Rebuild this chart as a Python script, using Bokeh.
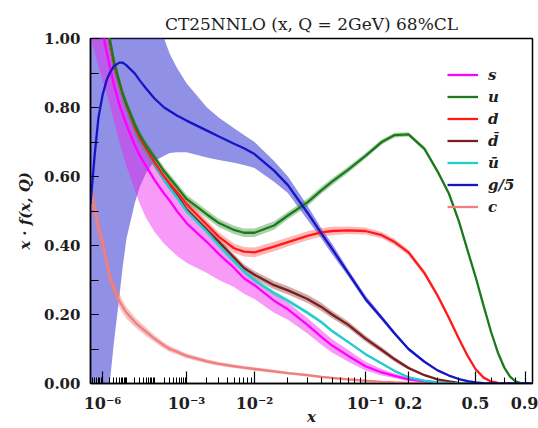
import numpy as np
from bokeh.plotting import figure
from bokeh.models import (Range1d, FixedTicker, SingleIntervalTicker, NumeralTickFormatter,
                          Legend, LegendItem)
from bokeh.embed import file_html
from bokeh.resources import INLINE

# momentum fraction grid
X = [3.5e-7, 5e-7, 7e-7, 1e-6, 1.5e-6, 2e-6, 3e-6, 5e-6,
     7e-6, 1e-5, 2e-5, 3e-5, 5e-5, 1e-4, 2e-4, 3e-4,
     5e-4, 1e-3, 2e-3, 3e-3, 5e-3, 7e-3, 0.01, 0.015,
     0.02, 0.03, 0.04, 0.05, 0.07, 0.1, 0.13, 0.16,
     0.2, 0.25, 0.3, 0.35, 0.4, 0.45, 0.5, 0.55,
     0.6, 0.65, 0.7, 0.75, 0.8, 0.85, 0.9, 0.97]

# x*f(x,Q) central values and uncertainties
U = [1.55, 1.4, 1.26, 1.15, 1.06, 1.0, 0.935, 0.875,
     0.84, 0.81, 0.75, 0.72, 0.69, 0.655, 0.615, 0.595,
     0.57, 0.535, 0.49, 0.465, 0.445, 0.437, 0.437, 0.458,
     0.487, 0.525, 0.56, 0.585, 0.62, 0.66, 0.70, 0.72,
     0.722, 0.68, 0.615, 0.55, 0.47, 0.385, 0.31, 0.225,
     0.15, 0.09, 0.047, 0.02, 0.006, 0.001, 0.0, 0.0]
U_ERR = [0.03, 0.027, 0.024, 0.021, 0.019, 0.018, 0.016, 0.015,
         0.014, 0.014, 0.013, 0.013, 0.012, 0.012, 0.012, 0.012,
         0.012, 0.012, 0.012, 0.012, 0.012, 0.012, 0.012, 0.012,
         0.011, 0.011, 0.01, 0.01, 0.009, 0.008, 0.007, 0.007,
         0.006, 0.006, 0.006, 0.006, 0.006, 0.005, 0.005, 0.004,
         0.003, 0.002, 0.002, 0.001, 0.001, 0.0, 0.0, 0.0]

UBAR = [1.5, 1.35, 1.22, 1.13, 1.04, 0.985, 0.92, 0.865,
        0.83, 0.80, 0.735, 0.705, 0.675, 0.635, 0.59, 0.567,
        0.54, 0.50, 0.44, 0.40, 0.355, 0.325, 0.30, 0.262,
        0.24, 0.205, 0.178, 0.152, 0.12, 0.085, 0.058, 0.036,
        0.018, 0.008, 0.003, 0.001, 0.0, 0.0, 0.0, 0.0,
        0.0, 0.0, 0.0, 0.0, 0.0, 0.0, 0.0, 0.0]
UBAR_ERR = [0.025, 0.022, 0.02, 0.018, 0.016, 0.015, 0.013, 0.012,
            0.011, 0.011, 0.01, 0.01, 0.009, 0.009, 0.008, 0.008,
            0.008, 0.008, 0.008, 0.008, 0.008, 0.007, 0.007, 0.007,
            0.006, 0.006, 0.005, 0.005, 0.004, 0.004, 0.003, 0.003,
            0.002, 0.001, 0.001, 0.0, 0.0, 0.0, 0.0, 0.0,
            0.0, 0.0, 0.0, 0.0, 0.0, 0.0, 0.0, 0.0]

DBAR = [1.5, 1.35, 1.22, 1.13, 1.04, 0.985, 0.92, 0.865,
        0.83, 0.80, 0.735, 0.705, 0.675, 0.635, 0.592, 0.57,
        0.545, 0.505, 0.445, 0.41, 0.365, 0.335, 0.315, 0.285,
        0.27, 0.245, 0.222, 0.2, 0.17, 0.13, 0.097, 0.07,
        0.045, 0.024, 0.012, 0.006, 0.002, 0.0005, 0.0, 0.0,
        0.0, 0.0, 0.0, 0.0, 0.0, 0.0, 0.0, 0.0]
DBAR_ERR = [0.025, 0.022, 0.02, 0.018, 0.016, 0.015, 0.013, 0.012,
            0.011, 0.011, 0.01, 0.01, 0.009, 0.009, 0.008, 0.008,
            0.008, 0.008, 0.009, 0.01, 0.01, 0.011, 0.011, 0.012,
            0.012, 0.012, 0.012, 0.011, 0.01, 0.009, 0.008, 0.007,
            0.005, 0.003, 0.002, 0.001, 0.001, 0.0, 0.0, 0.0,
            0.0, 0.0, 0.0, 0.0, 0.0, 0.0, 0.0, 0.0]

D = [1.5, 1.37, 1.24, 1.14, 1.05, 0.99, 0.925, 0.87,
     0.835, 0.805, 0.74, 0.71, 0.68, 0.64, 0.6, 0.58,
     0.555, 0.52, 0.46, 0.425, 0.392, 0.382, 0.38, 0.397,
     0.41, 0.428, 0.438, 0.442, 0.444, 0.442, 0.43, 0.41,
     0.38, 0.32, 0.255, 0.19, 0.13, 0.08, 0.042, 0.017,
     0.006, 0.002, 0.0005, 0.0, 0.0, 0.0, 0.0, 0.0]
D_ERR = [0.03, 0.027, 0.024, 0.021, 0.019, 0.018, 0.016, 0.015,
         0.014, 0.014, 0.013, 0.013, 0.012, 0.012, 0.012, 0.012,
         0.012, 0.013, 0.013, 0.013, 0.014, 0.014, 0.014, 0.014,
         0.013, 0.013, 0.012, 0.012, 0.011, 0.01, 0.009, 0.009,
         0.008, 0.008, 0.007, 0.006, 0.005, 0.004, 0.003, 0.002,
         0.001, 0.001, 0.0, 0.0, 0.0, 0.0, 0.0, 0.0]

S = [1.35, 1.22, 1.1, 1.02, 0.96, 0.92, 0.865, 0.81,
     0.78, 0.75, 0.69, 0.66, 0.63, 0.59, 0.55, 0.53,
     0.50, 0.465, 0.41, 0.375, 0.335, 0.305, 0.285, 0.24,
     0.215, 0.17, 0.135, 0.11, 0.08, 0.05, 0.032, 0.022,
     0.012, 0.006, 0.003, 0.0015, 0.0005, 0.0, 0.0, 0.0,
     0.0, 0.0, 0.0, 0.0, 0.0, 0.0, 0.0, 0.0]
S_LO = [1.0, 0.96, 0.92, 0.88, 0.84, 0.81, 0.76, 0.70,
        0.665, 0.63, 0.56, 0.52, 0.48, 0.44, 0.405, 0.39,
        0.37, 0.35, 0.32, 0.30, 0.28, 0.26, 0.245, 0.205,
        0.185, 0.145, 0.112, 0.09, 0.063, 0.038, 0.023, 0.015,
        0.007, 0.003, 0.001, 0.0, 0.0, 0.0, 0.0, 0.0,
        0.0, 0.0, 0.0, 0.0, 0.0, 0.0, 0.0, 0.0]
S_HI = [1.6, 1.45, 1.3, 1.17, 1.06, 0.99, 0.925, 0.87,
        0.835, 0.80, 0.735, 0.705, 0.675, 0.635, 0.59, 0.567,
        0.54, 0.495, 0.435, 0.395, 0.355, 0.325, 0.305, 0.26,
        0.235, 0.19, 0.155, 0.128, 0.097, 0.063, 0.042, 0.029,
        0.017, 0.009, 0.005, 0.002, 0.001, 0.0, 0.0, 0.0,
        0.0, 0.0, 0.0, 0.0, 0.0, 0.0, 0.0, 0.0]

G5 = [0.52, 0.66, 0.77, 0.835, 0.88, 0.90, 0.92, 0.93,
      0.93, 0.922, 0.898, 0.878, 0.855, 0.826, 0.80, 0.79,
      0.777, 0.762, 0.733, 0.716, 0.695, 0.682, 0.665, 0.617,
      0.575, 0.495, 0.435, 0.39, 0.32, 0.245, 0.19, 0.145,
      0.10, 0.063, 0.038, 0.023, 0.013, 0.007, 0.003, 0.001,
      0.0003, 0.0, 0.0, 0.0, 0.0, 0.0, 0.0, 0.0]
G5_LO = [0.0, 0.0, 0.0, 0.0, 0.0, 0.0, 0.12, 0.25,
         0.34, 0.42, 0.525, 0.57, 0.61, 0.645, 0.66, 0.668,
         0.67, 0.67, 0.655, 0.648, 0.64, 0.633, 0.625, 0.585,
         0.552, 0.475, 0.42, 0.375, 0.31, 0.237, 0.183, 0.139,
         0.096, 0.06, 0.036, 0.021, 0.012, 0.0065, 0.0028, 0.001,
         0.0, 0.0, 0.0, 0.0, 0.0, 0.0, 0.0, 0.0]
G5_HI = [1.6, 1.6, 1.6, 1.6, 1.6, 1.6, 1.6, 1.6,
         1.55, 1.45, 1.35, 1.28, 1.2, 1.09, 1.0, 0.955,
         0.915, 0.87, 0.80, 0.77, 0.74, 0.72, 0.70, 0.645,
         0.60, 0.515, 0.45, 0.405, 0.33, 0.255, 0.197, 0.151,
         0.104, 0.066, 0.04, 0.025, 0.014, 0.0075, 0.0035, 0.0012,
         0.0004, 0.0, 0.0, 0.0, 0.0, 0.0, 0.0, 0.0]

C = [0.56, 0.51, 0.45, 0.41, 0.35, 0.31, 0.275, 0.24,
     0.222, 0.205, 0.178, 0.165, 0.15, 0.13, 0.11, 0.10,
     0.092, 0.08, 0.064, 0.057, 0.05, 0.046, 0.042, 0.035,
     0.03, 0.024, 0.019, 0.016, 0.012, 0.008, 0.005, 0.0035,
     0.002, 0.001, 0.0005, 0.0, 0.0, 0.0, 0.0, 0.0,
     0.0, 0.0, 0.0, 0.0, 0.0, 0.0, 0.0, 0.0]
C_ERR = [0.04, 0.037, 0.033, 0.03, 0.027, 0.025, 0.022, 0.02,
         0.018, 0.017, 0.014, 0.013, 0.012, 0.01, 0.009, 0.0085,
         0.008, 0.007, 0.006, 0.0055, 0.005, 0.005, 0.005, 0.0045,
         0.004, 0.004, 0.0035, 0.003, 0.003, 0.002, 0.002, 0.0015,
         0.001, 0.001, 0.0005, 0.0, 0.0, 0.0, 0.0, 0.0,
         0.0, 0.0, 0.0, 0.0, 0.0, 0.0, 0.0, 0.0]

# tick values and their labels
X_TICKS = [1e-6, 1e-3, 1e-2, 0.1, 0.2, 0.5, 0.9]
X_TICK_LABELS = ["10\u207b\u2076", "10\u207b\u00b3", "10\u207b\u00b2", "10\u207b\u00b9",
                 "0.2", "0.5", "0.9"]

# horizontal axis warp: log-like at small x, stretched towards x -> 1
LOG_KNOTS = [-6.456, -6.0, -5.0, -4.0, -3.0, -2.0, -1.0, -0.699, -0.523, -0.301, -0.046, 0.0]
POS_KNOTS = [0.0, 12.0, 36.0, 64.0, 96.0, 164.0, 275.0, 318.0, 347.0, 385.0, 435.0, 443.0]


def warp(x):
    return np.interp(np.log10(np.asarray(x, dtype=float)), LOG_KNOTS, POS_KNOTS)


xs = warp(X)
SERIF = "DejaVu Serif"
INK = "#1e1e1e"

p = figure(width=538, height=428, output_backend="svg", toolbar_location=None,
           x_range=Range1d(0, 442), y_range=Range1d(0, 1),
           min_border_left=90, min_border_right=6, min_border_top=38, min_border_bottom=45)

p.title.text = "CT25NNLO (x, Q = 2GeV) 68%CL"
p.title.align = "center"
p.title.text_font = SERIF
p.title.text_font_size = "17px"
p.title.text_font_style = "normal"
p.title.text_color = INK

p.grid.visible = False
p.outline_line_color = "black"
p.outline_line_width = 1.5
p.background_fill_color = "white"
p.border_fill_color = "white"


def band(lo, hi, color, alpha):
    p.varea(x=xs, y1=lo, y2=hi, fill_color=color, fill_alpha=alpha)


def sym(v, e):
    v = np.asarray(v)
    e = np.asarray(e)
    return v - e, v + e


band(G5_LO, G5_HI, "#3434d2", 0.55)
band(S_LO, S_HI, "#f01ef0", 0.45)
band(*sym(C, C_ERR), "#ee7a7a", 0.45)
band(*sym(U, U_ERR), "#2e8b2e", 0.4)
band(*sym(D, D_ERR), "#ff3030", 0.35)
band(*sym(DBAR, DBAR_ERR), "#8b2a2a", 0.4)
band(*sym(UBAR, UBAR_ERR), "#22c8c8", 0.4)

LW = 2.3
r_c = p.line(xs, C, line_color="#f08080", line_width=LW)
r_s = p.line(xs, S, line_color="#ff00ff", line_width=LW)
r_db = p.line(xs, DBAR, line_color="#7a1f1f", line_width=LW)
r_ub = p.line(xs, UBAR, line_color="#22cccc", line_width=LW)
r_d = p.line(xs, D, line_color="#ff1a1a", line_width=LW)
r_u = p.line(xs, U, line_color="#1c7a1c", line_width=LW)
r_g = p.line(xs, G5, line_color="#1414c8", line_width=LW)

legend = Legend(items=[
    LegendItem(label="s", renderers=[r_s]),
    LegendItem(label="u", renderers=[r_u]),
    LegendItem(label="d", renderers=[r_d]),
    LegendItem(label="d\u0304", renderers=[r_db]),
    LegendItem(label="u\u0304", renderers=[r_ub]),
    LegendItem(label="g/5", renderers=[r_g]),
    LegendItem(label="c", renderers=[r_c]),
], location=(357, 166))
legend.background_fill_alpha = 0
legend.border_line_alpha = 0
legend.padding = 0
legend.margin = 0
legend.spacing = 1
legend.label_height = 21
legend.glyph_height = 21
legend.glyph_width = 31
legend.label_standoff = 10
legend.label_text_font = SERIF
legend.label_text_font_style = "bold italic"
legend.label_text_font_size = "15px"
legend.label_text_color = INK
p.add_layout(legend)

# x axis
xa = p.xaxis[0]
tick_pos = [float(round(v, 2)) for v in warp(X_TICKS)]
minor_vals = []
for dec in range(-7, 0):
    for k in range(1, 10):
        v = k * 10.0 ** dec
        if 3.5e-7 <= v <= 0.97 and not any(abs(v - t) / t < 1e-9 for t in X_TICKS):
            minor_vals.append(v)
xa.ticker = FixedTicker(ticks=tick_pos,
                        minor_ticks=[float(round(v, 2)) for v in warp(minor_vals)])
xa.major_label_overrides = {t: lab for t, lab in zip(tick_pos, X_TICK_LABELS)}
xa.major_tick_in = 12
xa.major_tick_out = 0
xa.minor_tick_in = 6
xa.minor_tick_out = 0
xa.major_label_standoff = 10
xa.major_label_text_font = SERIF
xa.major_label_text_font_style = "bold"
xa.major_label_text_font_size = "16px"
xa.axis_label = "x"
xa.axis_label_standoff = -8
xa.axis_label_text_font = SERIF
xa.axis_label_text_font_style = "bold italic"
xa.axis_label_text_font_size = "15px"

# y axis
ya = p.yaxis[0]
ya.ticker = SingleIntervalTicker(interval=0.2, num_minor_ticks=2)
ya.formatter = NumeralTickFormatter(format="0.00")
ya.major_tick_in = 8
ya.major_tick_out = 0
ya.minor_tick_in = 8
ya.minor_tick_out = 0
ya.major_label_standoff = 10
ya.major_label_text_font = SERIF
ya.major_label_text_font_style = "bold"
ya.major_label_text_font_size = "15px"
ya.axis_label = "x \u00b7 f(x, Q)"
ya.axis_label_standoff = 7
ya.axis_label_text_font = SERIF
ya.axis_label_text_font_style = "bold italic"
ya.axis_label_text_font_size = "15px"

for ax in (xa, ya):
    ax.axis_line_width = 1.5
    ax.major_tick_line_width = 1.2
    ax.minor_tick_line_width = 1.0
    ax.major_label_text_color = INK
    ax.axis_label_text_color = INK

open("out.html", "w").write(file_html(p, INLINE))
